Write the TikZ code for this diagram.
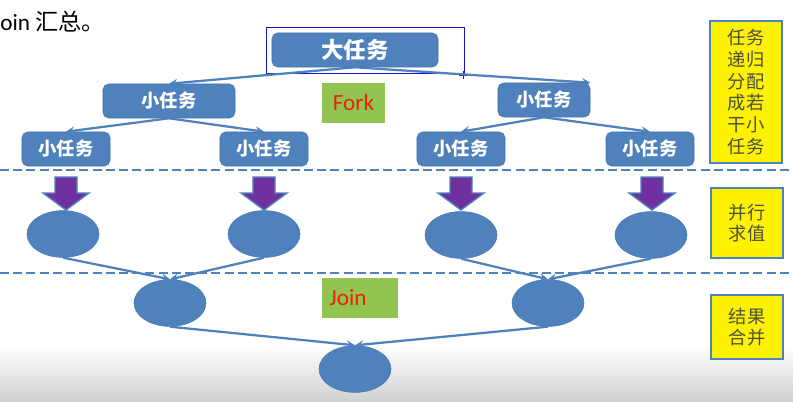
\documentclass[tikz,border=0pt]{standalone}
\usepackage{fontspec}
\setmainfont{Carlito}
\newfontfamily\cjk{Noto Sans CJK SC}
\usetikzlibrary{arrows,shapes.geometric}
\definecolor{taskblue}{RGB}{79,129,189}
\definecolor{forkgreen}{RGB}{146,196,80}
\definecolor{forkred}{RGB}{235,35,10}
\definecolor{arrowpurple}{RGB}{112,48,160}
\definecolor{noteyellow}{RGB}{255,242,0}
\definecolor{notetext}{RGB}{75,82,60}
\definecolor{selblue}{RGB}{20,20,200}
\begin{document}
\begin{tikzpicture}[x=0.025cm,y=-0.025cm,>=stealth,
  task/.style={fill=taskblue,draw=taskblue!90!black,rounded corners=4pt,minimum height=0.85cm,text=white,font=\cjk\bfseries\fontsize{13}{15}\selectfont},
  val/.style={ellipse,fill=taskblue,draw=taskblue!95!black,minimum width=1.8cm,minimum height=1.17cm,inner sep=0pt},
  tag/.style={fill=forkgreen,text=forkred,minimum height=1cm,font=\fontsize{16.5}{18}\selectfont},
  note/.style={fill=noteyellow,draw=taskblue,line width=1.5pt,text=notetext,align=center,minimum width=1.78cm,font=\cjk\fontsize{13}{15.5}\selectfont},
  link/.style={->,draw=taskblue,line width=1.6pt},
  sep/.style={draw=taskblue,line width=2pt,dash pattern=on 6.4pt off 3pt}]
\useasboundingbox (0,0) rectangle (793,401);
\shade[top color=white,bottom color=black!18] (0,345) rectangle (793,401);
\node[anchor=west,inner sep=0pt,font=\fontsize{16.5}{18}\selectfont] (caption) at (0,22) {oin {\cjk 汇总。}};
\node[task,minimum width=4.15cm,font=\cjk\bfseries\fontsize{16}{18}\selectfont] (big) at (355,50) {大任务};
\draw[selblue,line width=0.6pt] (266,27) rectangle (464,73);
\draw[selblue,line width=0.6pt] (459,75) -- (467,75) (463,71) -- (463,79);
\node[task,minimum width=3.3cm] (l1) at (169,101) {小任务};
\node[task,minimum width=2.3cm] (r1) at (544,100) {小任务};
\node[task,minimum width=2.2cm] (ll) at (66,149) {小任务};
\node[task,minimum width=2.2cm] (lr) at (264,149) {小任务};
\node[task,minimum width=2.2cm] (rl) at (461,149) {小任务};
\node[task,minimum width=2.2cm] (rr) at (650,149) {小任务};
\node[tag,minimum width=1.575cm] (fork) at (353.5,103) {Fork};
\node[tag,minimum width=1.9cm,text width=1.6cm,align=left] (join) at (360,298) {\hspace{1pt}Join};
\draw[link] (big.south) -- (l1.north);
\draw[link] (big.south) -- (r1.north east);
\draw[link] (l1.south) -- (ll.north);
\draw[link] (l1.south) -- (lr.north);
\draw[link] (r1.south) -- (rl.north);
\draw[link] (r1.south) -- (rr.north);
\draw[sep] (0,170) -- (793,170);
\draw[sep] (0,273) -- (793,273);
\node[val] (a1) at (63,234) {};
\node[val] (a2) at (264,234) {};
\node[val] (a3) at (461,235) {};
\node[val] (a4) at (651,235) {};
\node[val] (b1) at (170,303) {};
\node[val] (b2) at (548,303) {};
\node[val] (c) at (355,369) {};
\foreach \x in {66,264,461,652}
  \filldraw[fill=arrowpurple,draw=taskblue,line width=1pt] (\x-11,177) -- (\x+11,177) -- (\x+11,193) -- (\x+23,193) -- (\x,210) -- (\x-23,193) -- (\x-11,193) -- cycle;
\draw[link] (a1.south) -- (b1.north);
\draw[link] (a2.south) -- (b1.north);
\draw[link] (a3.south) -- (b2.north);
\draw[link] (a4.south) -- (b2.north);
\draw[link] (b1.south) -- (c.north);
\draw[link] (b2.south) -- (c.north);
\node[note,minimum height=3.55cm] (n1) at (746,92) {任务\\递归\\分配\\成若\\干小\\任务};
\node[note,minimum height=1.75cm] (n2) at (747,223) {并行\\求值};
\node[note,minimum height=1.6cm] (n3) at (747,327) {结果\\合并};
\end{tikzpicture}
\end{document}
